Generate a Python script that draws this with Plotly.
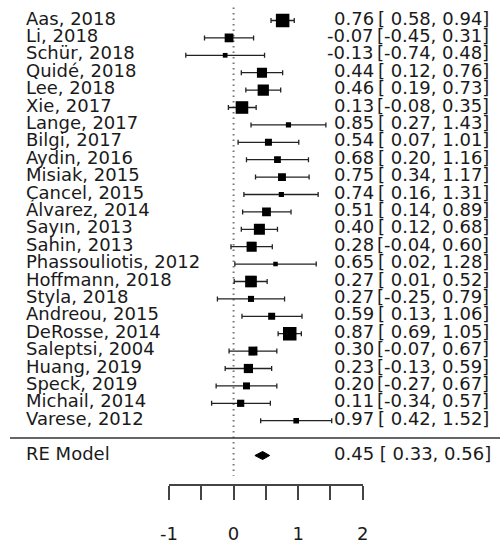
import plotly.graph_objects as go

# ---------------- data ----------------
studies = ["Aas, 2018", "Li, 2018", "Schür, 2018", "Quidé, 2018", "Lee, 2018", "Xie, 2017",
           "Lange, 2017", "Bilgi, 2017", "Aydin, 2016", "Misiak, 2015", "Cancel, 2015",
           "Álvarez, 2014", "Sayın, 2013", "Sahin, 2013", "Phassouliotis, 2012",
           "Hoffmann, 2018", "Styla, 2018", "Andreou, 2015", "DeRosse, 2014",
           "Saleptsi, 2004", "Huang, 2019", "Speck, 2019", "Michail, 2014", "Varese, 2012"]
estimates = [0.76, -0.07, -0.13, 0.44, 0.46, 0.13, 0.85, 0.54, 0.68, 0.75, 0.74, 0.51,
             0.40, 0.28, 0.65, 0.27, 0.27, 0.59, 0.87, 0.30, 0.23, 0.20, 0.11, 0.97]
ci_lower = [0.58, -0.45, -0.74, 0.12, 0.19, -0.08, 0.27, 0.07, 0.20, 0.34, 0.16, 0.14,
            0.12, -0.04, 0.02, 0.01, -0.25, 0.13, 0.69, -0.07, -0.13, -0.27, -0.34, 0.42]
ci_upper = [0.94, 0.31, 0.48, 0.76, 0.73, 0.35, 1.43, 1.01, 1.16, 1.17, 1.31, 0.89,
            0.68, 0.60, 1.28, 0.52, 0.79, 1.06, 1.05, 0.67, 0.59, 0.67, 0.57, 1.52]
weights = [6.4, 4.3, 2.5, 4.9, 5.4, 6.0, 2.7, 3.5, 3.4, 3.9, 2.7, 4.3,
           5.3, 4.9, 2.4, 5.6, 3.1, 3.5, 6.4, 4.4, 4.5, 3.5, 3.6, 2.9]
re_label = "RE Model"
re_estimate, re_lower, re_upper = 0.45, 0.33, 0.56
tick_values = [-1, -0.5, 0, 0.5, 1, 1.5, 2]
tick_labels = ["-1", "", "0", "", "1", "", "2"]

# ---------------- layout helpers ----------------
W, H = 500, 545
k = len(studies)
rows = list(range(k, 0, -1))
re_row = -1
FONT = "DejaVu Sans"
FS = 18
TXT = "#1a1a1a"
INK = "#222222"

wmin, wmax = min(weights), max(weights)
sizes = [4.5 + 9.0 * (w - wmin) / (wmax - wmin) for w in weights]

fig = go.Figure()

# reference line at 0
fig.add_trace(go.Scatter(x=[0, 0], y=[k + 0.75, -2.16], mode="lines",
                         line=dict(color="#777777", width=2, dash="1.5px,4px"),
                         hoverinfo="skip", showlegend=False))

# CI whiskers (error bars on an invisible trace)
fig.add_trace(go.Scatter(
    x=estimates, y=rows, mode="markers",
    marker=dict(size=1, color="rgba(0,0,0,0)"),
    error_x=dict(type="data", symmetric=False,
                 array=[u - e for u, e in zip(ci_upper, estimates)],
                 arrayminus=[e - l for l, e in zip(ci_lower, estimates)],
                 color=INK, thickness=1.3, width=2.5),
    showlegend=False, hoverinfo="skip"))

# study squares
fig.add_trace(go.Scatter(
    x=estimates, y=rows, mode="markers",
    marker=dict(symbol="square", size=sizes, color="#000000", opacity=1,
                line=dict(width=0)),
    showlegend=False, hoverinfo="skip"))

# summary diamond
h = 4.0 / 17.4
fig.add_trace(go.Scatter(
    x=[re_lower, re_estimate, re_upper, re_estimate, re_lower],
    y=[re_row, re_row + h, re_row, re_row - h, re_row],
    mode="lines", fill="toself", fillcolor="black",
    line=dict(color="black", width=1), showlegend=False, hoverinfo="skip"))

# separator line
fig.add_shape(type="line", xref="paper", yref="y", x0=10 / W, x1=1.0, y0=0, y1=0,
              line=dict(color="#333333", width=1.5))

def txt(x, y, s, anchor):
    return dict(x=x / W, y=y, xref="paper", yref="y", text=s, showarrow=False,
                xanchor=anchor, yanchor="middle", yshift=2.5,
                font=dict(family=FONT, size=FS, color=TXT))

ann = []
for name, r, e, lo, hi in zip(studies, rows, estimates, ci_lower, ci_upper):
    ann.append(txt(24, r, name, "left"))
    ann.append(txt(376, r, f"{e:.2f}", "right"))
    ann.append(txt(491, r, f"[{lo:5.2f}, {hi:.2f}]", "right"))
ann.append(txt(24, re_row, re_label, "left"))
ann.append(txt(493, re_row, f"{re_estimate:.2f} [{re_lower:5.2f}, {re_upper:.2f}]", "right"))

x0px, x1px = 169.0, 362.7
axis_px = 484.0
row_px_1 = 420.7
row_step = 17.4
y_top = 1 + row_px_1 / row_step
y_bot = 1 - (axis_px - row_px_1) / row_step

fig.update_layout(
    width=W, height=H, autosize=False,
    margin=dict(l=0, r=0, t=0, b=0, pad=0, autoexpand=False),
    paper_bgcolor="white", plot_bgcolor="white",
    showlegend=False,
    annotations=ann,
    xaxis=dict(domain=[x0px / W, x1px / W], range=[-1, 2], showgrid=False, zeroline=False,
               showline=True, linecolor="#444444", linewidth=1.5, automargin=False,
               ticks="outside", ticklen=14, tickwidth=1.5, tickcolor="#444444",
               tickmode="array", tickvals=tick_values, ticktext=tick_labels,
               ticklabelstandoff=19,
               tickfont=dict(family=FONT, size=FS, color=TXT)),
    yaxis=dict(domain=[(H - axis_px) / H, 1], range=[y_bot, y_top], visible=False,
               automargin=False),
)

fig.write_html("out.html")
